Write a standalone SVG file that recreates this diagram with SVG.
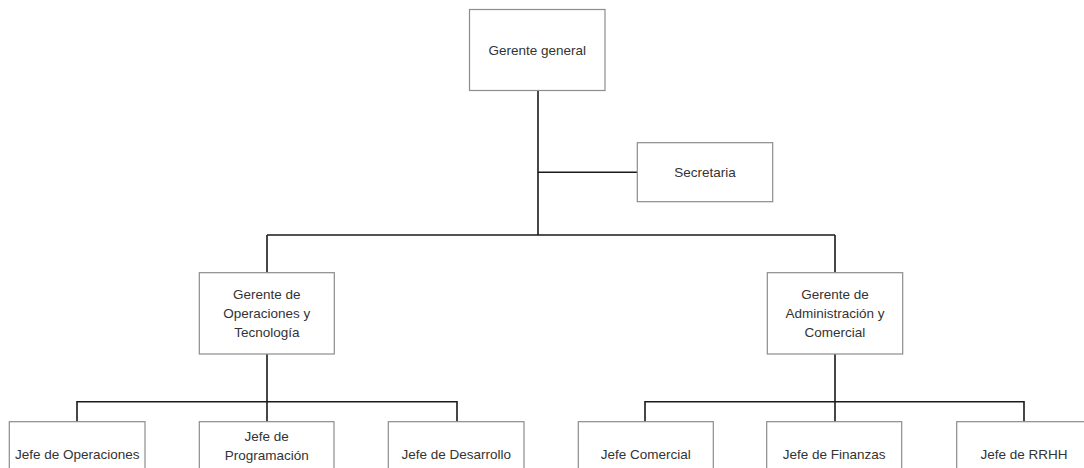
<svg xmlns="http://www.w3.org/2000/svg" width="1084" height="468" viewBox="0 0 1084 468">
<style>
.box{fill:#ffffff;stroke:#8c8c8c;stroke-width:1.2}
.t{font-family:"Liberation Sans",Arial,sans-serif;font-size:13.5px;fill:#333333;text-anchor:middle}
.c{fill:none;stroke:#1a1a1a;stroke-width:1.6}
</style>
<rect width="1084" height="468" fill="#ffffff"/>
<g id="connectors">
<path class="c" d="M538 90.5V235M538 172.3H637.3M267 235H835M267 235V272.7M835 235V272.7"/>
<path class="c" d="M267 354V401.7M77 421.7V401.7H457V421.7M267 401.7V421.7"/>
<path class="c" d="M835 354V401.7M645 421.7V401.7H1024V421.7M835 401.7V421.7"/>
</g>
<g id="gerente-general"><rect class="box" x="469.5" y="9.5" width="135.5" height="81"/><text class="t" x="537.3" y="54.8">Gerente general</text></g>
<g id="secretaria"><rect class="box" x="637.3" y="142.7" width="135.4" height="59"/><text class="t" x="705" y="177">Secretaria</text></g>
<g id="gerente-operaciones"><rect class="box" x="199.3" y="272.7" width="135" height="81.3"/><text class="t" x="266.8" y="298.7">Gerente de</text><text class="t" x="266.8" y="318">Operaciones y</text><text class="t" x="266.8" y="336.5">Tecnología</text></g>
<g id="gerente-administracion"><rect class="box" x="767.3" y="272.7" width="135.4" height="81.3"/><text class="t" x="835" y="298.7">Gerente de</text><text class="t" x="835" y="318">Administración y</text><text class="t" x="835" y="336.5">Comercial</text></g>
<g id="jefe-operaciones"><rect class="box" x="9.3" y="421.7" width="135.7" height="60"/><text class="t" x="77.2" y="458.7">Jefe de Operaciones</text></g>
<g id="jefe-programacion"><rect class="box" x="199.3" y="421.7" width="134.7" height="60"/><text class="t" x="266.7" y="441.4">Jefe de</text><text class="t" x="266.7" y="460.4">Programación</text></g>
<g id="jefe-desarrollo"><rect class="box" x="388.3" y="421.7" width="135.7" height="60"/><text class="t" x="456.2" y="458.7">Jefe de Desarrollo</text></g>
<g id="jefe-comercial"><rect class="box" x="578.3" y="421.7" width="135" height="60"/><text class="t" x="645.8" y="458.7">Jefe Comercial</text></g>
<g id="jefe-finanzas"><rect class="box" x="766.7" y="421.7" width="135" height="60"/><text class="t" x="834.2" y="458.7">Jefe de Finanzas</text></g>
<g id="jefe-rrhh"><rect class="box" x="956.7" y="421.7" width="135" height="60"/><text class="t" x="1024" y="458.7">Jefe de RRHH</text></g>
</svg>
